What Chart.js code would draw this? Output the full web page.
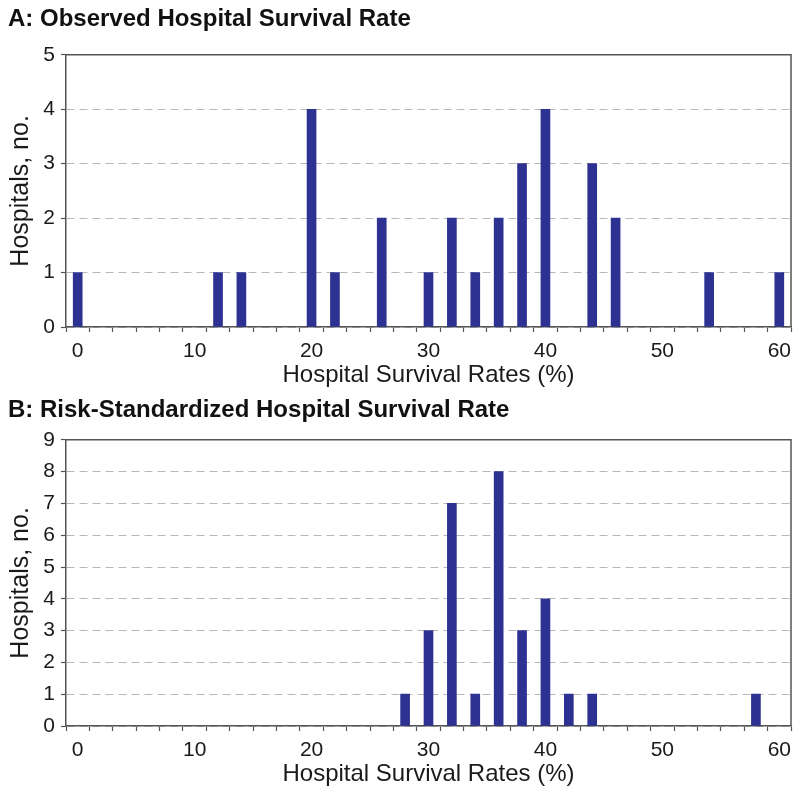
<!DOCTYPE html>
<html>
<head>
<meta charset="utf-8">
<script src="https://cdn.jsdelivr.net/npm/chart.js@4"></script>
<style>
  html, body { margin: 0; padding: 0; background: #fff; }
  .box { position: absolute; left: 0; width: 800px; height: 396px; }
  #boxA { top: 0; }
  #boxB { top: 396px; }
</style>
</head>
<body>
<div class="box" id="boxA"><canvas id="chartA"></canvas></div>
<div class="box" id="boxB"><canvas id="chartB"></canvas></div>
<script>
// ---- data ----
const titleA = 'A: Observed Hospital Survival Rate';
const titleB = 'B: Risk-Standardized Hospital Survival Rate';
const ratesA = [0, 12, 14, 20, 22, 26, 30, 32, 34, 36, 38, 40, 44, 46, 54, 60];
const countsA = [1, 1, 1, 4, 1, 2, 1, 2, 1, 2, 3, 4, 3, 2, 1, 1];
const ratesB = [28, 30, 32, 34, 36, 38, 40, 42, 44, 58];
const countsB = [1, 3, 7, 1, 8, 3, 4, 1, 1, 1];
const xTickValues = [0, 2, 4, 6, 8, 10, 12, 14, 16, 18, 20, 22, 24, 26, 28, 30, 32, 34, 36, 38, 40, 42, 44, 46, 48, 50, 52, 54, 56, 58, 60];
const xLabelValues = [0, 10, 20, 30, 40, 50, 60];
const yMaxA = 5;
const yMaxB = 9;
const xTitle = 'Hospital Survival Rates (%)';
const yTitle = 'Hospitals, no.';

const FONT = "'Liberation Sans', Arial, sans-serif";
const TEXT = '#1a1a1a';
const AXIS = '#555555';
const BAR = '#2D3192';

const frame = {
  id: 'frame',
  afterDatasetsDraw(chart) {
    const a = chart.chartArea, ctx = chart.ctx;
    ctx.save();
    ctx.strokeStyle = AXIS;
    ctx.lineWidth = 1.5;
    ctx.beginPath();
    ctx.moveTo(a.left, a.top);
    ctx.lineTo(a.right, a.top);
    ctx.lineTo(a.right, a.bottom);
    ctx.stroke();
    ctx.restore();
  }
};

function makeChart(id, title, rates, counts, yMax, titlePad, xHeight, xTitlePadBottom) {
  const data = rates.map((r, i) => ({ x: r, y: counts[i] }));
  return new Chart(document.getElementById(id), {
    type: 'bar',
    data: { datasets: [{ data, backgroundColor: BAR, barThickness: 9 }] },
    options: {
      responsive: true,
      maintainAspectRatio: false,
      animation: false,
      layout: { padding: { left: 8, right: 9, top: 0, bottom: 0 } },
      plugins: {
        legend: { display: false },
        tooltip: { enabled: false },
        title: {
          display: true, text: title, align: 'start', color: '#111',
          font: { family: FONT, size: 24, weight: 'bold', lineHeight: 1.2 },
          padding: titlePad
        }
      },
      scales: {
        x: {
          type: 'linear', min: -1, max: 61, offset: false,
          afterBuildTicks: s => { s.ticks = xTickValues.map(v => ({ value: v })); },
          afterFit: s => { s.height = xHeight; },
          ticks: {
            autoSkip: false, maxRotation: 0, minRotation: 0, padding: 7,
            color: TEXT, font: { family: FONT, size: 21 },
            callback: v => xLabelValues.includes(v) ? String(v) : ''
          },
          grid: { display: true, drawOnChartArea: false, drawTicks: true, tickLength: 5, tickColor: AXIS, tickWidth: 1.2 },
          border: { display: true, color: AXIS, width: 1.5 },
          title: { display: true, text: xTitle, color: TEXT, font: { family: FONT, size: 24, lineHeight: 1.2 }, padding: { top: 0, bottom: xTitlePadBottom } }
        },
        y: {
          min: 0, max: yMax,
          afterFit: s => { s.width = 58; },
          ticks: { stepSize: 1, padding: 6, color: TEXT, font: { family: FONT, size: 21 } },
          grid: { color: '#b8b8b8', lineWidth: 1, drawTicks: true, tickLength: 5, tickColor: AXIS, tickWidth: 1.2, tickBorderDash: [] },
          border: { display: true, color: AXIS, width: 1.5, dash: [8, 5] },
          title: { display: true, text: yTitle, color: TEXT, font: { family: FONT, size: 25, lineHeight: 1 }, padding: { top: 1, bottom: 0 } }
        }
      }
    },
    plugins: [frame]
  });
}

makeChart('chartA', titleA, ratesA, countsA, yMaxA, { top: 5, bottom: 21 }, 69, 6);
makeChart('chartB', titleB, ratesB, countsB, yMaxB, { top: 0, bottom: 15 }, 66, 3);
</script>
</body>
</html>
